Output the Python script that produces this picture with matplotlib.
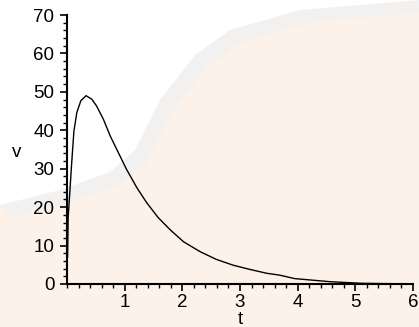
import numpy as np
import matplotlib.pyplot as plt
from matplotlib.patches import Polygon
from matplotlib.ticker import MultipleLocator

# values
t = [0.01, 0.02, 0.05, 0.08, 0.12, 0.17, 0.24, 0.33, 0.43, 0.51, 0.63, 0.75,
     0.89, 1.03, 1.21, 1.38, 1.58, 1.79, 2.02, 2.31, 2.59, 2.88, 3.17, 3.46,
     3.69, 3.95, 4.56, 5.08, 5.5, 6.0]
v = [7.0, 17.3, 24.2, 31.2, 39.8, 44.6, 47.7, 49.0, 48.1, 46.4, 42.9, 38.5,
     34.2, 29.9, 25.1, 21.2, 17.3, 14.1, 11.0, 8.4, 6.4, 4.9, 3.8, 2.8,
     2.3, 1.4, 0.6, 0.2, 0.1, 0.05]
xticks = [1, 2, 3, 4, 5, 6]
yticks = [0, 10, 20, 30, 40, 50, 60, 70]

plt.rcParams['font.family'] = ['Liberation Sans', 'DejaVu Sans']

fig = plt.figure(figsize=(4.19, 3.27), dpi=100)
fig.patch.set_facecolor('#fdf2ea')

# faint background: white upper-left region bounded by a soft grey band
W, H = 419.0, 327.0
edge = [(0, 205), (60, 190), (110, 172), (135, 150), (160, 100), (195, 55),
        (230, 30), (300, 10), (419, 0)]
def fp(pts):
    return [(x / W, 1 - y / H) for x, y in pts]
band = edge + [(x + 12, y + 12) for x, y in edge[::-1]]
fig.patches.append(Polygon(fp(band), closed=True, transform=fig.transFigure,
                           facecolor='#f3f1ef', edgecolor='none', zorder=0))
fig.patches.append(Polygon(fp([(0, 0)] + edge), closed=True, transform=fig.transFigure,
                           facecolor='white', edgecolor='none', zorder=0))

ax = fig.add_axes([67 / W, 43 / H, 346 / W, 269 / H])
ax.set_zorder(5)
ax.patch.set_alpha(0)

ax.plot(t, v, color='black', lw=1.0)

ax.set_xlim(0, 6)
ax.set_ylim(0, 70)
for s in ['top', 'right']:
    ax.spines[s].set_visible(False)
ax.spines['left'].set_linewidth(1.5)
ax.spines['bottom'].set_linewidth(1.5)

ax.set_xticks(xticks)
ax.set_yticks(yticks)
ax.xaxis.set_minor_locator(MultipleLocator(0.2))
ax.yaxis.set_minor_locator(MultipleLocator(2))
ax.tick_params(which='major', length=5, width=1.2, labelsize=13.5)
ax.tick_params(axis='x', which='major', pad=2)
ax.tick_params(axis='y', which='major', pad=4)
ax.tick_params(which='minor', length=3, width=1.0)

ax.set_xlabel('t', fontsize=13.5)
ax.set_ylabel('v', fontsize=13.5, rotation=0, va='center', ha='center')
ax.yaxis.set_label_coords(-0.147, 0.49)
ax.xaxis.set_label_coords(0.5, -0.1)

fig.savefig('out.png', dpi=100)
